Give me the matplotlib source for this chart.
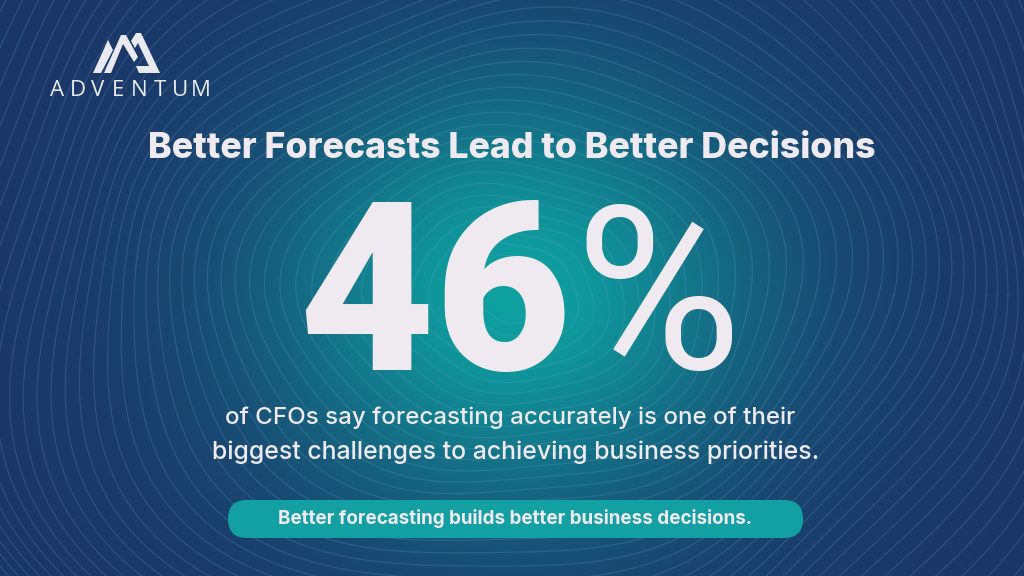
import numpy as np
import matplotlib.pyplot as plt
from matplotlib.patches import FancyBboxPatch, Polygon

# content
title = "Better Forecasts Lead to Better Decisions"
stat_value = 46
stat_unit = "%"
caption = ["of CFOs say forecasting accurately is one of their",
           "biggest challenges to achieving business priorities."]
pill_text = "Better forecasting builds better business decisions."
brand = "ADVENTUM"

navy = np.array([27, 54, 103]) / 255.0
teal = np.array([14, 160, 160]) / 255.0
text_col = '#eeeaf0'

# mathtext for the big number
plt.rcParams['mathtext.fontset'] = 'custom'
plt.rcParams['mathtext.rm'] = 'Roboto'
plt.rcParams['mathtext.bf'] = 'Roboto:weight=black'

W, H = 1024, 576
fig = plt.figure(figsize=(10.24, 5.76), dpi=100)
ax = fig.add_axes([0, 0, 1, 1])
ax.set_xlim(0, W)
ax.set_ylim(H, 0)
ax.axis('off')

# radial glow background
yy, xx = np.mgrid[0:H, 0:W]
cx, cy = 512, 295
d = np.sqrt(((xx - cx) / 330.0) ** 2 + ((yy - cy) / 290.0) ** 2)
w = np.exp(-d ** 2 * 1.7)
img = navy[None, None, :] * (1 - w[..., None]) + teal[None, None, :] * w[..., None]
ax.imshow(img, extent=[0, W, H, 0], zorder=0, interpolation='bilinear')

# wavy concentric lines
t = np.linspace(0, 2 * np.pi, 600)
for r in np.arange(30, 1000, 13):
    warp = 1 + 0.06 * np.sin(2 * t + r / 120.0) + 0.03 * np.sin(5 * t - r / 80.0)
    x = cx + r * 1.15 * np.cos(t) * warp
    y = cy + r * 0.95 * np.sin(t) * warp
    ax.plot(x, y, color='#6fa3d8', lw=0.9, alpha=0.22, zorder=1)

fig.canvas.draw()
renderer = fig.canvas.get_renderer()


def fit_text(x, y, s, width, size=20, **kw):
    txt = ax.text(x, y, s, fontsize=size, **kw)
    ext = txt.get_window_extent(renderer)
    txt.set_fontsize(size * width / ext.width)
    return txt


# title
fit_text(512, 148, title, 730, ha='center', va='center', color=text_col,
         family='Inter', weight='heavy', zorder=5)

# big stat: digit height ~165 px (cap height ~0.71 em)
stat_size = 167 / 0.711 * 72 / 100
ax.text(566, 370, r'$\mathbf{%d}$' % stat_value, fontsize=stat_size, ha='right',
        va='baseline', color=text_col, zorder=5)
ax.text(574, 369, r'$\mathrm{\%s}$' % stat_unit, fontsize=stat_size * 0.97, ha='left',
        va='baseline', color=text_col, zorder=5)

# caption lines
fit_text(510, 418, caption[0], 570, ha='center', va='center', color=text_col,
         family='Inter', weight='medium', zorder=5)
fit_text(516, 452, caption[1], 607, ha='center', va='center', color=text_col,
         family='Inter', weight='medium', zorder=5)

# pill
pill = FancyBboxPatch((228, 500), 575, 38, boxstyle='round,pad=0,rounding_size=19',
                      fc='#12a0a2', ec='none', zorder=4)
ax.add_patch(pill)
fit_text(515, 519, pill_text, 475, ha='center', va='center', color=text_col,
         family='Inter', weight='bold', zorder=5)

# logo
logo_col = '#e9e9f0'
for pts in [[(93, 73), (108, 40), (113, 50), (101, 73)],
            [(104, 73), (121, 35), (126, 35), (138, 57), (134, 62), (123, 44), (111, 73)],
            [(131, 41), (136, 33), (141, 33), (160, 73), (139, 73), (136, 66), (149, 66),
             (138, 43), (135, 48)]]:
    ax.add_patch(Polygon(pts, closed=True, fc=logo_col, ec='none', zorder=5))
for i, ch in enumerate(brand):
    ax.text(57 + i * 20.5, 90, ch, fontsize=16, color=logo_col, ha='center', va='center',
            family='Open Sans', weight='normal', zorder=5)

fig.savefig('out.png', dpi=100)
